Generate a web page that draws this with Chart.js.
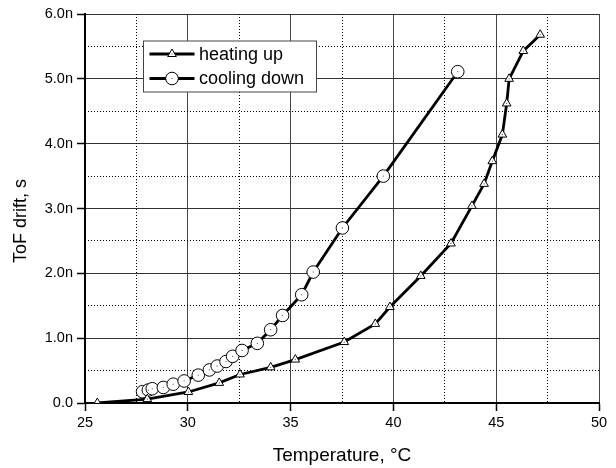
<!DOCTYPE html>
<html>
<head>
<meta charset="utf-8">
<script src="https://cdn.jsdelivr.net/npm/chart.js@4.4.1/dist/chart.umd.min.js"></script>
<style>
    body { margin: 0; background: #fff; }
    canvas { display: block; }
</style>
</head>
<body>
<canvas id="driftChart" width="616" height="468"></canvas>
<script>
// temperatures in degC, drift in ns
const heatTemp = [25.6, 28.03, 30.03, 31.53, 32.54, 34.03, 35.23, 37.61, 39.12, 39.83, 41.33, 42.8, 43.82, 44.41, 44.81, 45.3, 45.51, 45.63, 46.32, 47.14];
const heatDrift = [0.0, 0.06, 0.17, 0.31, 0.44, 0.55, 0.67, 0.94, 1.22, 1.48, 1.96, 2.46, 3.04, 3.38, 3.73, 4.14, 4.62, 5.0, 5.43, 5.68];
const coolTemp = [27.8, 28.08, 28.27, 28.81, 29.29, 29.82, 30.51, 31.05, 31.43, 31.86, 32.18, 32.64, 33.38, 34.03, 34.61, 35.54, 36.1, 37.52, 39.51, 43.13];
const coolDrift = [0.175, 0.2, 0.22, 0.24, 0.29, 0.34, 0.43, 0.51, 0.57, 0.64, 0.72, 0.81, 0.92, 1.13, 1.35, 1.67, 2.02, 2.7, 3.5, 5.11];
const seriesNames = ['heating up', 'cooling down'];
const xTicks = [25, 30, 35, 40, 45, 50];
const yTicks = [0, 1, 2, 3, 4, 5, 6];

const FONT = "'Liberation Sans', Arial, sans-serif";

function toPoints(xs, ys) {
    return xs.map((x, i) => ({x: x, y: ys[i]}));
}

function marker(ctx, style, x, y, r) {
    ctx.save();
    ctx.fillStyle = '#fff';
    ctx.strokeStyle = '#000';
    ctx.lineWidth = 1;
    ctx.beginPath();
    if (style === 'triangle') {
        let a = 0;
        ctx.moveTo(x + Math.sin(a) * r, y - Math.cos(a) * r);
        a += Math.PI * 2 / 3;
        ctx.lineTo(x + Math.sin(a) * r, y - Math.cos(a) * r);
        a += Math.PI * 2 / 3;
        ctx.lineTo(x + Math.sin(a) * r, y - Math.cos(a) * r);
        ctx.closePath();
    } else {
        ctx.arc(x, y, r, 0, Math.PI * 2);
    }
    ctx.fill();
    ctx.stroke();
    ctx.fillStyle = '#444';
    ctx.fillRect(x - 0.5, y - 0.5, 1, 1);
    ctx.restore();
}

// little dot in the middle of every marker, like the original plot
const centerDots = {
    id: 'centerDots',
    afterDatasetsDraw(chart) {
        const ctx = chart.ctx;
        const area = chart.chartArea;
        ctx.save();
        ctx.fillStyle = '#444';
        chart.data.datasets.forEach((ds, i) => {
            chart.getDatasetMeta(i).data.forEach(pt => {
                if (pt.y < area.bottom - 1) ctx.fillRect(pt.x - 0.5, pt.y - 0.5, 1, 1);
            });
        });
        ctx.restore();
    }
};

// boxed legend inside the plot
const boxLegend = {
    id: 'boxLegend',
    afterDraw(chart) {
        const ctx = chart.ctx;
        const a = chart.chartArea;
        const bx = a.left + 58.5, by = a.top + 27, bw = 173, bh = 51;
        ctx.save();
        ctx.fillStyle = '#fff';
        ctx.fillRect(bx, by, bw, bh);
        ctx.strokeStyle = '#444';
        ctx.lineWidth = 1;
        ctx.strokeRect(bx, by, bw, bh);
        chart.data.datasets.forEach((ds, i) => {
            const y = by + 13 + i * 24.5;
            ctx.strokeStyle = '#000';
            ctx.lineWidth = 2.8;
            ctx.beginPath();
            ctx.moveTo(bx + 6, y);
            ctx.lineTo(bx + 51, y);
            ctx.stroke();
            marker(ctx, ds.pointStyle, bx + 28.5, y, ds.pointRadius);
            ctx.fillStyle = '#000';
            ctx.font = '18px ' + FONT;
            ctx.textBaseline = 'middle';
            ctx.textAlign = 'left';
            ctx.fillText(ds.label, bx + 55.5, y + 1);
        });
        ctx.restore();
    }
};

function minorColor(step) {
    return function (c) {
        if (!c.tick) return 'rgba(0,0,0,0)';
        const v = c.tick.value / step;
        return Math.abs(v - Math.round(v)) < 1e-6 ? 'rgba(0,0,0,0)' : '#000';
    };
}

const ctx = document.getElementById('driftChart').getContext('2d');
const chart = new Chart(ctx, {
    type: 'line',
    data: {
        datasets: [
            {
                label: seriesNames[0],
                data: toPoints(heatTemp, heatDrift),
                borderColor: '#000',
                borderWidth: 2.8,
                tension: 0,
                pointStyle: 'triangle',
                pointRadius: 5,
                pointBackgroundColor: '#fff',
                pointBorderColor: '#000',
                pointBorderWidth: 1
            },
            {
                label: seriesNames[1],
                data: toPoints(coolTemp, coolDrift),
                borderColor: '#000',
                borderWidth: 2.8,
                tension: 0,
                pointStyle: 'circle',
                pointRadius: 6.3,
                pointBackgroundColor: '#fff',
                pointBorderColor: '#000',
                pointBorderWidth: 1
            }
        ]
    },
    options: {
        responsive: false,
        animation: false,
        devicePixelRatio: 1,
        layout: { padding: { left: 0, right: 17, top: 14, bottom: 0 } },
        plugins: {
            legend: { display: false },
            tooltip: { enabled: false }
        },
        scales: {
            x: {
                type: 'linear',
                position: 'bottom',
                min: xTicks[0],
                max: xTicks[xTicks.length - 1],
                afterBuildTicks: s => { s.ticks = xTicks.map(v => ({value: v})); },
                ticks: { color: '#000', font: { family: FONT, size: 14.5 }, padding: 3, maxRotation: 0 },
                grid: { color: '#444', lineWidth: 1, tickColor: '#000', tickLength: 8, tickWidth: 1.5 },
                border: { color: '#000', width: 2 },
                title: { display: true, text: 'Temperature, \u00b0C', color: '#000', font: { family: FONT, size: 19 }, padding: { top: 0, bottom: 1 } },
                afterFit: s => { s.height = 65; }
            },
            y: {
                type: 'linear',
                position: 'left',
                min: yTicks[0],
                max: yTicks[yTicks.length - 1],
                afterBuildTicks: s => { s.ticks = yTicks.map(v => ({value: v})); },
                ticks: {
                    color: '#000',
                    font: { family: FONT, size: 14.5 },
                    padding: 4,
                    callback: v => v === 0 ? '0.0' : v.toFixed(1) + 'n'
                },
                grid: { color: '#333', lineWidth: 1, tickColor: '#000', tickLength: 8, tickWidth: 1.5 },
                border: { color: '#000', width: 2 },
                title: { display: true, text: 'ToF drift, s     ', color: '#000', font: { family: FONT, size: 18 }, padding: { top: 10, bottom: 0 } },
                afterFit: s => { s.width = 85; }
            },
            // minor dotted grid
            x2: {
                type: 'linear',
                position: 'top',
                min: 25,
                max: 50,
                ticks: { display: false, stepSize: 2.5 },
                grid: { drawTicks: false, color: minorColor(5), lineWidth: 1 },
                border: { display: false, dash: [1, 2] },
                afterFit: s => { s.height = 0; }
            },
            y2: {
                type: 'linear',
                position: 'right',
                min: 0,
                max: 6,
                ticks: { display: false, stepSize: 0.5 },
                grid: { drawTicks: false, color: minorColor(1), lineWidth: 1 },
                border: { display: false, dash: [1, 2] },
                afterFit: s => { s.width = 0; }
            }
        }
    },
    plugins: [centerDots, boxLegend]
});
</script>
</body>
</html>
